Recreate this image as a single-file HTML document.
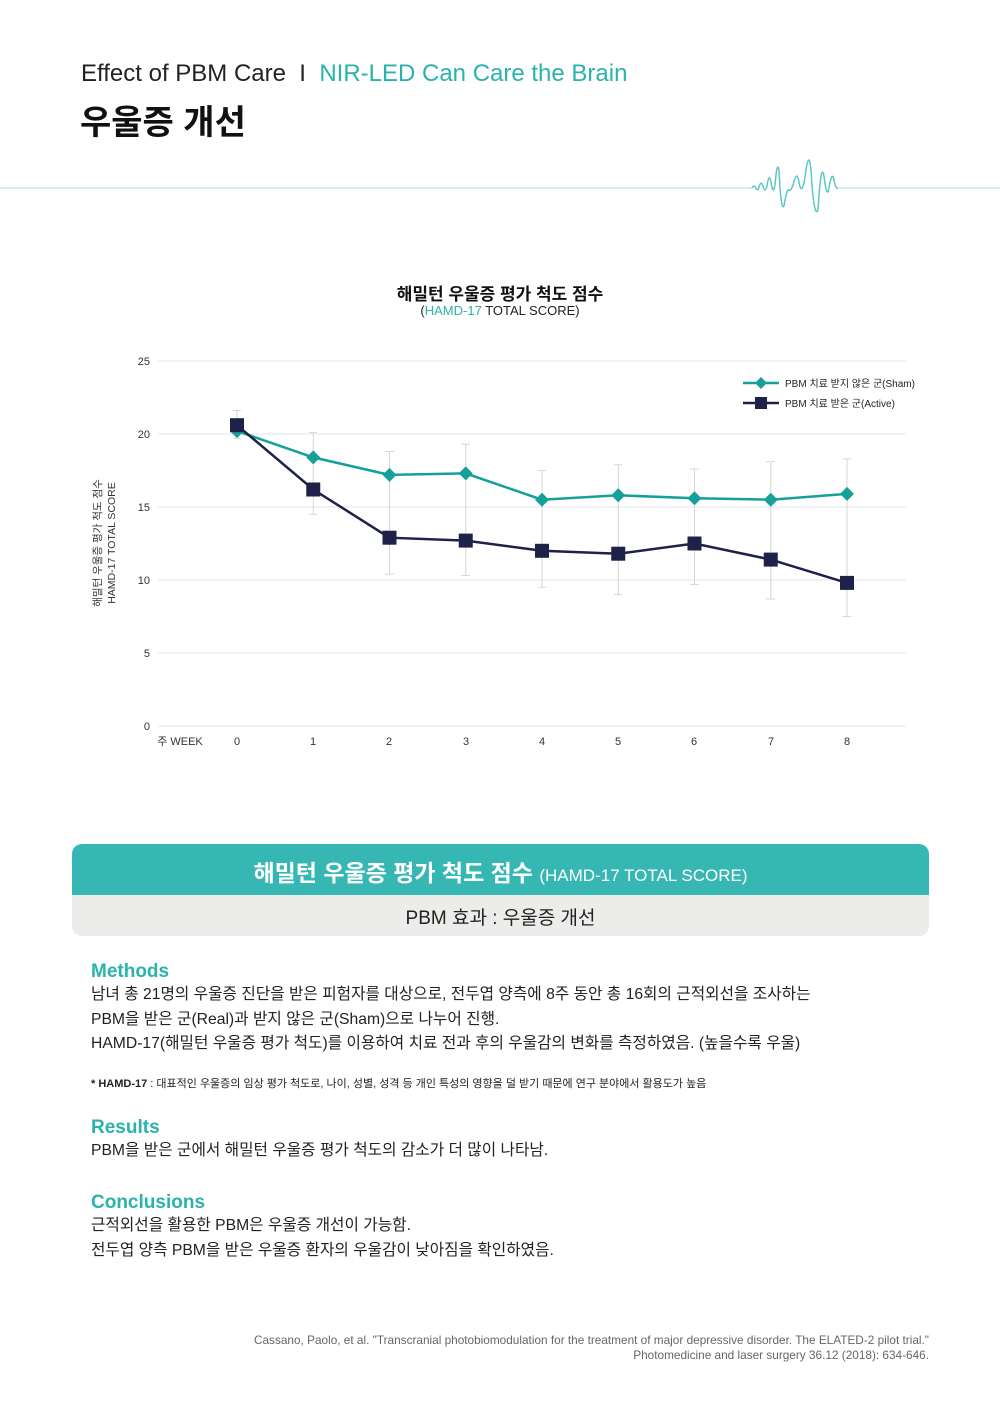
<!DOCTYPE html>
<html><head><meta charset="utf-8">
<style>
*{margin:0;padding:0;box-sizing:border-box}
body{width:1000px;height:1415px;background:#fff;font-family:"Liberation Sans","Noto Sans CJK KR",sans-serif;color:#222;position:relative;overflow:hidden}
.a{position:absolute;white-space:nowrap}
.teal{color:#2ab2ad}
.h{font-size:19px;font-weight:bold;color:#2ab2ad}
.p{font-size:15.7px;color:#222;line-height:24.5px}
</style></head><body>
<div class="a" style="left:81px;top:60px;font-size:24px;color:#222">Effect of PBM Care &nbsp;I&nbsp; <span class="teal">NIR-LED Can Care the Brain</span></div>
<div class="a" style="left:80px;top:95px;font-size:34px;font-weight:bold;color:#111">우울증 개선</div>

<svg class="a" style="left:0;top:0" width="1000" height="1415">
<line x1="0" y1="188" x2="752" y2="188" stroke="#a8e0dd" stroke-width="1"/>
<line x1="838" y1="188" x2="1000" y2="188" stroke="#a8e0dd" stroke-width="1"/>
<path d="M752 188 Q754 184 756 188 Q758 192 759 187 Q761 180 763 186 Q765 194 767 186 Q769 172 771 182 Q773 196 775 185 Q777 160 779 170 Q781 212 784 206 Q787 188 789 190 Q791 192 794 182 Q797 170 799 182 Q802 200 806 170 Q809 150 811 170 Q814 220 818 210 Q821 160 824 176 Q827 200 829 188 Q832 170 834 180 Q836 190 838 188" fill="none" stroke="#5cc8c4" stroke-width="1.5"/>

<g stroke="#e6e6e6" stroke-width="1">
<line x1="158" y1="361" x2="906" y2="361"/><line x1="158" y1="434" x2="906" y2="434"/>
<line x1="158" y1="507" x2="906" y2="507"/><line x1="158" y1="580" x2="906" y2="580"/>
<line x1="158" y1="653" x2="906" y2="653"/><line x1="158" y1="726" x2="906" y2="726"/>
</g>
<g fill="#333" font-size="11" text-anchor="end">
<text x="150" y="365">25</text><text x="150" y="438">20</text><text x="150" y="511">15</text>
<text x="150" y="584">10</text><text x="150" y="657">5</text><text x="150" y="730">0</text>
</g>
<g fill="#333" font-size="11" text-anchor="middle">
<text x="180" y="745">주 WEEK</text>
<text x="237" y="745">0</text><text x="313" y="745">1</text><text x="389" y="745">2</text><text x="466" y="745">3</text><text x="542" y="745">4</text><text x="618" y="745">5</text><text x="694" y="745">6</text><text x="771" y="745">7</text><text x="847" y="745">8</text>
</g>
<text transform="translate(101,543) rotate(-90)" font-size="10.5" fill="#333" text-anchor="middle">해밀턴 우울증 평가 척도 점수</text>
<text transform="translate(115,543) rotate(-90)" font-size="10.5" fill="#333" text-anchor="middle">HAMD-17 TOTAL SCORE</text>

<g stroke="#d6d6d6" stroke-width="1">
<line x1="237" y1="410.6" x2="237" y2="438.4"/><line x1="233" y1="410.6" x2="241" y2="410.6"/><line x1="233" y1="438.4" x2="241" y2="438.4"/>
<line x1="313.25" y1="432.5" x2="313.25" y2="514.3"/><line x1="309" y1="432.5" x2="317" y2="432.5"/><line x1="309" y1="514.3" x2="317" y2="514.3"/>
<line x1="389.5" y1="451.5" x2="389.5" y2="574.2"/><line x1="385" y1="451.5" x2="394" y2="451.5"/><line x1="385" y1="574.2" x2="394" y2="574.2"/>
<line x1="465.75" y1="444.2" x2="465.75" y2="575.6"/><line x1="461" y1="444.2" x2="470" y2="444.2"/><line x1="461" y1="575.6" x2="470" y2="575.6"/>
<line x1="542" y1="470.5" x2="542" y2="587.3"/><line x1="538" y1="470.5" x2="546" y2="470.5"/><line x1="538" y1="587.3" x2="546" y2="587.3"/>
<line x1="618.25" y1="464.7" x2="618.25" y2="594.6"/><line x1="614" y1="464.7" x2="622" y2="464.7"/><line x1="614" y1="594.6" x2="622" y2="594.6"/>
<line x1="694.5" y1="469" x2="694.5" y2="584.4"/><line x1="690" y1="469" x2="699" y2="469"/><line x1="690" y1="584.4" x2="699" y2="584.4"/>
<line x1="770.75" y1="461.7" x2="770.75" y2="599"/><line x1="766" y1="461.7" x2="775" y2="461.7"/><line x1="766" y1="599" x2="775" y2="599"/>
<line x1="847" y1="458.8" x2="847" y2="616.5"/><line x1="843" y1="458.8" x2="851" y2="458.8"/><line x1="843" y1="616.5" x2="851" y2="616.5"/>
</g>
<polyline points="237,431.1 313.25,457.4 389.5,474.9 465.75,473.4 542,499.7 618.25,495.3 694.5,498.2 770.75,499.7 847,493.9" fill="none" stroke="#15a09a" stroke-width="2.5"/>
<polyline points="237,425.2 313.25,489.5 389.5,537.7 465.75,540.6 542,550.8 618.25,553.7 694.5,543.5 770.75,559.6 847,582.9" fill="none" stroke="#1e2148" stroke-width="2.5"/>
<g fill="#15a09a">
<path d="M237 424.1l7 7-7 7-7-7z"/><path d="M313.25 450.4l7 7-7 7-7-7z"/><path d="M389.5 467.9l7 7-7 7-7-7z"/><path d="M465.75 466.4l7 7-7 7-7-7z"/><path d="M542 492.7l7 7-7 7-7-7z"/><path d="M618.25 488.3l7 7-7 7-7-7z"/><path d="M694.5 491.2l7 7-7 7-7-7z"/><path d="M770.75 492.7l7 7-7 7-7-7z"/><path d="M847 486.9l7 7-7 7-7-7z"/>
</g>
<g fill="#1e2148">
<rect x="230" y="418.2" width="14" height="14"/><rect x="306.25" y="482.5" width="14" height="14"/><rect x="382.5" y="530.7" width="14" height="14"/><rect x="458.75" y="533.6" width="14" height="14"/><rect x="535" y="543.8" width="14" height="14"/><rect x="611.25" y="546.7" width="14" height="14"/><rect x="687.5" y="536.5" width="14" height="14"/><rect x="763.75" y="552.6" width="14" height="14"/><rect x="840" y="575.9" width="14" height="14"/>
</g>
<line x1="743" y1="383" x2="779" y2="383" stroke="#15a09a" stroke-width="2.5"/><path d="M761 377l6 6-6 6-6-6z" fill="#15a09a"/>
<text x="785" y="387" font-size="10" fill="#222">PBM 치료 받지 않은 군(Sham)</text>
<line x1="743" y1="403" x2="779" y2="403" stroke="#1e2148" stroke-width="2.5"/><rect x="755" y="397" width="12" height="12" fill="#1e2148"/>
<text x="785" y="407" font-size="10" fill="#222">PBM 치료 받은 군(Active)</text>
</svg>

<div class="a" style="left:0;width:1000px;top:280px;text-align:center;font-size:17px;font-weight:bold;color:#111">해밀턴 우울증 평가 척도 점수</div>
<div class="a" style="left:0;width:1000px;top:303px;text-align:center;font-size:13px;color:#222">(<span class="teal">HAMD-17</span> TOTAL SCORE)</div>

<div class="a" style="left:72px;top:844px;width:857px;height:92px;border-radius:10px;overflow:hidden;background:#ececea">
<div style="height:51px;background:#37b7b4;color:#fff;text-align:center;padding-top:10px;font-size:23px;font-weight:bold">해밀턴 우울증 평가 척도 점수 <span style="font-size:17px;font-weight:normal">(HAMD-17 TOTAL SCORE)</span></div>
<div style="text-align:center;font-size:19px;color:#222;padding-top:8px">PBM 효과 : 우울증 개선</div>
</div>

<div class="a h" style="left:91px;top:961px">Methods</div>
<div class="a p" style="left:91px;top:983px">남녀 총 21명의 우울증 진단을 받은 피험자를 대상으로, 전두엽 양측에 8주 동안 총 16회의 근적외선을 조사하는<br>PBM을 받은 군(Real)과 받지 않은 군(Sham)으로 나누어 진행.<br>HAMD-17(해밀턴 우울증 평가 척도)를 이용하여 치료 전과 후의 우울감의 변화를 측정하였음. (높을수록 우울)</div>
<div class="a" style="left:91px;top:1075px;font-size:11px;color:#222"><b>* HAMD-17</b> : 대표적인 우울증의 임상 평가 척도로, 나이, 성별, 성격 등 개인 특성의 영향을 덜 받기 때문에 연구 분야에서 활용도가 높음</div>

<div class="a h" style="left:91px;top:1117px">Results</div>
<div class="a p" style="left:91px;top:1139px">PBM을 받은 군에서 해밀턴 우울증 평가 척도의 감소가 더 많이 나타남.</div>

<div class="a h" style="left:91px;top:1192px">Conclusions</div>
<div class="a p" style="left:91px;top:1214px">근적외선을 활용한 PBM은 우울증 개선이 가능함.<br>전두엽 양측 PBM을 받은 우울증 환자의 우울감이 낮아짐을 확인하였음.</div>

<div class="a" style="right:71px;top:1333px;text-align:right;font-size:11.8px;color:#666;line-height:14.5px">Cassano, Paolo, et al. "Transcranial photobiomodulation for the treatment of major depressive disorder. The ELATED-2 pilot trial."<br>Photomedicine and laser surgery 36.12 (2018): 634-646.</div>
</body></html>
